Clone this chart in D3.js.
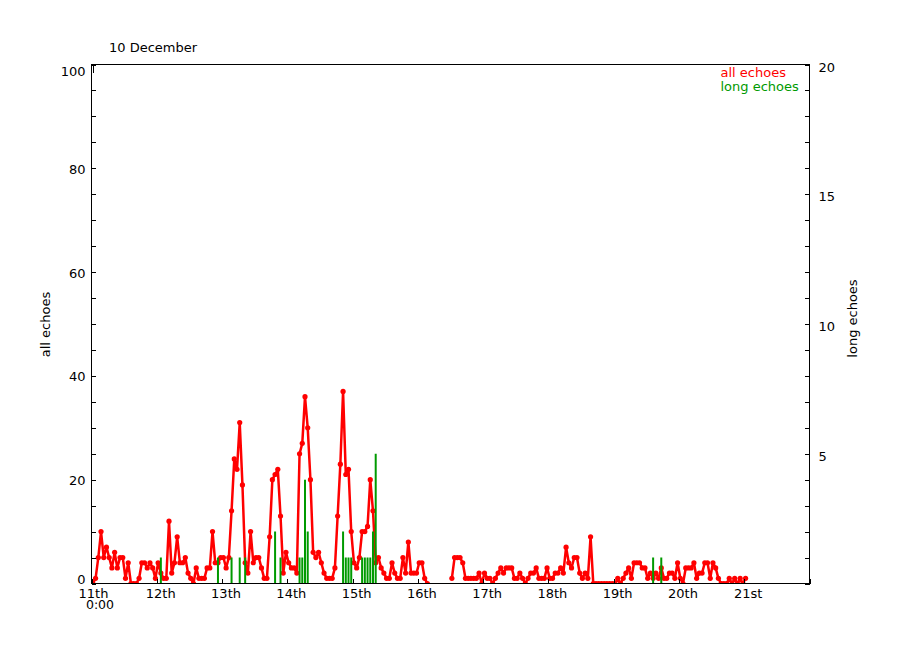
<!DOCTYPE html>
<html>
<head>
<meta charset="utf-8">
<script src="https://cdn.jsdelivr.net/npm/d3@7"></script>
<style>
  html, body { margin: 0; padding: 0; background: #fff; }
  svg { display: block; font-family: "DejaVu Sans", sans-serif; font-size: 13px; }
</style>
</head>
<body>
<svg id="chart" width="900" height="650"></svg>
<script>
// ---- data (hourly, starting 11th 0:00) ----
const dayLabels = ["11th","12th","13th","14th","15th","16th","17th","18th","19th","20th","21st"];
const allEchoes = [
  // 11th
  0,1,5,10,5,7,5,3,6,3,5,5,1,4,0,0,0,1,4,4,3,4,3,1,
  // 12th
  4,2,1,1,12,2,4,9,4,4,5,2,1,0,3,1,1,1,3,3,10,4,4,5,
  // 13th
  5,3,5,14,24,22,31,19,4,2,10,4,5,5,3,1,1,9,20,21,22,13,2,6,
  // 14th
  4,3,3,2,25,27,36,30,20,6,5,6,4,2,1,1,1,3,13,23,37,21,22,10,
  // 15th
  4,3,5,10,10,11,20,14,4,5,3,2,1,1,4,2,1,1,5,2,8,2,2,2,
  // 16th
  4,4,1,0,null,null,null,null,null,null,null,null,1,5,5,5,4,1,1,1,1,1,2,0,
  // 17th
  2,1,1,0,1,2,3,2,3,3,3,1,1,2,1,0,1,2,2,3,1,1,1,3,
  // 18th
  1,1,2,2,3,2,7,4,3,5,5,2,1,2,1,9,0,0,0,0,0,0,0,0,
  // 19th
  0,1,0,1,2,3,1,4,4,4,3,3,1,2,1,2,1,3,1,1,2,2,1,4,
  // 20th
  1,0,3,3,3,4,1,2,2,4,4,1,4,3,1,0,0,0,1,0,1,0,1,0,
  // 21st
  1
];
const longEchoHours  = [25,46,51,54,56,67,69,76,77,78,79,92,93,94,95,99,100,101,102,103,104,206,209];
const longEchoCounts = [ 1, 1, 1, 1, 1, 2, 1, 1, 1, 4, 2, 2, 1, 1, 1, 1,  1,  1,  1,  2,  5,  1,  1];
const leftTicks = d3.range(0, 101, 5);
const rightTicks = d3.range(0, 21, 1);
const sampleOffset = 0.5; // samples are centred half an hour after the hour mark

// ---- layout ----
const L = 91.5, R = 809.5, T = 64.5, B = 583.5;
const RED = "#ff0000", GREEN = "#009a00";
const svg = d3.select("#chart");

const x = d3.scaleLinear().domain([0, 264]).range([L, R]);
const yL = d3.scaleLinear().domain([0, 100]).range([B, T]);
const yR = d3.scaleLinear().domain([0, 20]).range([B, T]);

svg.append("defs").append("clipPath").attr("id", "clip")
  .append("rect").attr("x", L).attr("y", T).attr("width", R - L).attr("height", B - T);

// data series
const pts = allEchoes.map((v, i) => ({h: i + sampleOffset, v: v}));
const g = svg.append("g").attr("clip-path", "url(#clip)");
const line = d3.line().defined(d => d.v != null).x(d => x(d.h)).y(d => yL(d.v));
g.append("path").datum(pts).attr("d", line)
  .attr("fill", "none").attr("stroke", RED).attr("stroke-width", 2.5).attr("stroke-linejoin", "round");
g.selectAll("circle.pt").data(pts.filter(d => d.v != null)).join("circle")
  .attr("class", "pt").attr("cx", d => x(d.h)).attr("cy", d => yL(d.v)).attr("r", 2.6).attr("fill", RED);

const longData = longEchoHours.map((h, i) => ({h: h + sampleOffset, v: longEchoCounts[i]}));
g.selectAll("line.long").data(longData).join("line")
  .attr("class", "long")
  .attr("x1", d => x(d.h)).attr("x2", d => x(d.h))
  .attr("y1", yR(0)).attr("y2", d => yR(d.v))
  .attr("stroke", GREEN).attr("stroke-width", 2);

// frame
svg.append("rect").attr("x", L).attr("y", T).attr("width", R - L).attr("height", B - T)
  .attr("fill", "none").attr("stroke", "#000").attr("stroke-width", 1).attr("shape-rendering", "crispEdges");

// left axis
const axL = svg.append("g").attr("transform", `translate(${L},0)`)
  .call(d3.axisLeft(yL).tickValues(leftTicks).tickSize(-4).tickPadding(6)
    .tickFormat(d => d % 20 === 0 ? d : ""));
axL.select(".domain").remove();
axL.selectAll("line").attr("stroke", "#000").attr("shape-rendering", "crispEdges");
axL.selectAll("text").attr("font-family", "DejaVu Sans").attr("font-size", 13).attr("fill", "#000")
  .attr("dy", null)
  .attr("y", d => d === 0 ? 0 : (d === 100 ? 11 : 5));

// right axis
const axR = svg.append("g").attr("transform", `translate(${R},0)`)
  .call(d3.axisRight(yR).tickValues(rightTicks).tickSize(-5).tickPadding(9)
    .tickFormat(d => (d % 5 === 0 && d > 0) ? d : ""));
axR.select(".domain").remove();
axR.selectAll("line").attr("stroke", "#000").attr("shape-rendering", "crispEdges");
axR.selectAll("text").attr("font-family", "DejaVu Sans").attr("font-size", 13).attr("fill", "#000")
  .attr("dy", null).attr("y", 6.5);

// bottom axis (day ticks)
const axB = svg.append("g").attr("transform", `translate(0,${B})`)
  .call(d3.axisBottom(x).tickValues(d3.range(0, 265, 24)).tickSize(-5).tickFormat(""));
axB.select(".domain").remove();
axB.selectAll("line").attr("stroke", "#000").attr("shape-rendering", "crispEdges");

// small top tick at start
svg.append("line").attr("x1", x(0) + 2).attr("x2", x(0) + 2).attr("y1", T).attr("y2", T + 8)
  .attr("stroke", "#000").attr("shape-rendering", "crispEdges");

// day labels
svg.append("g").selectAll("text").data(dayLabels).join("text")
  .attr("x", (d, i) => x(i * 24) + (i === 0 ? 2 : 4))
  .attr("y", 598).attr("text-anchor", "middle").attr("fill", "#000").text(d => d);
svg.append("text").attr("x", 100).attr("y", 609).attr("font-size", 12.5)
  .attr("text-anchor", "middle").text("0:00");

// title
svg.append("text").attr("x", 109).attr("y", 52).text("10 December");

// axis titles
svg.append("text").attr("transform", "translate(50,324.5) rotate(-90)").attr("text-anchor", "middle").text("all echoes");
svg.append("text").attr("transform", "translate(857,318.5) rotate(-90)").attr("text-anchor", "middle").text("long echoes");

// legend
svg.append("text").attr("x", 720.5).attr("y", 77).attr("fill", RED).text("all echoes");
svg.append("text").attr("x", 720.5).attr("y", 91).attr("fill", GREEN).text("long echoes");
</script>
</body>
</html>
